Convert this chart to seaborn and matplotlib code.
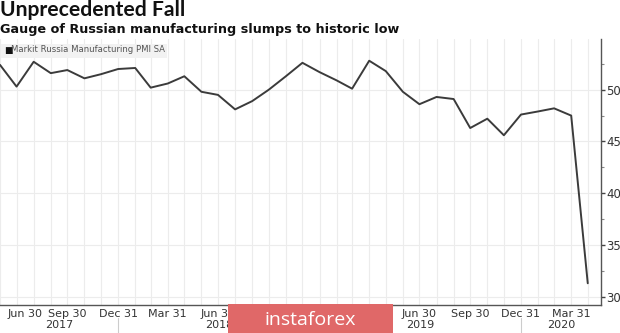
import matplotlib
matplotlib.use("Agg")
import matplotlib.pyplot as plt
import matplotlib.dates as mdates
from matplotlib.transforms import ScaledTranslation, blended_transform_factory
from matplotlib.patches import Rectangle
import seaborn as sns
import pandas as pd

# Markit Russia Manufacturing PMI SA, month-end readings May 2017 - Apr 2020
months = pd.date_range("2017-05-31", "2020-04-30", freq="ME")
pmi = [52.4, 50.3, 52.7, 51.6, 51.9, 51.1, 51.5, 52.0,
       52.1, 50.2, 50.6, 51.3, 49.8, 49.5, 48.1, 48.9, 50.0, 51.3, 52.6, 51.7,
       50.9, 50.1, 52.8, 51.8, 49.8, 48.6, 49.3, 49.1, 46.3, 47.2, 45.6, 47.6,
       47.9, 48.2, 47.5, 31.3]
quarter_ticks = ["2017-06-30", "2017-09-30", "2017-12-31", "2018-03-31",
                 "2018-06-30", "2018-09-30", "2018-12-31", "2019-03-31",
                 "2019-06-30", "2019-09-30", "2019-12-31", "2020-03-31"]
# quarters sitting under the publisher badge carry no label
quarter_labels = ["Jun 30", "Sep 30", "Dec 31", "Mar 31",
                  "Jun 30", "", "", "",
                  "Jun 30", "Sep 30", "Dec 31", "Mar 31"]
year_labels = ["2017", "2018", "2019", "2020"]
year_bounds = ["2017-05-31", "2017-12-31", "2018-12-31", "2019-12-31", "2020-05-24"]
y_ticks = [30, 35, 40, 45, 50]

df = pd.DataFrame({"date": months, "pmi": pmi})

sns.set_style("white")
plt.rcParams["font.family"] = ["DejaVu Sans"]

fig = plt.figure(figsize=(6.2, 3.33), dpi=100)
ax = fig.add_axes([0.0, 28 / 333, 601 / 620, 266 / 333])

sns.lineplot(data=df, x="date", y="pmi", ax=ax, color="#3b3b3b", linewidth=1.4)

ax.set_xlim(pd.Timestamp("2017-05-31"), pd.Timestamp("2020-05-24"))
ax.set_ylim(29.2, 54.9)

# monthly vertical grid, 5-point horizontal grid
ax.set_xticks(mdates.date2num(months), minor=True)
ax.set_xticks(mdates.date2num(pd.to_datetime(quarter_ticks)))
ax.set_xticklabels(quarter_labels, fontsize=8, color="#333333")
ax.grid(True, which="both", axis="x", color="#ececec", linewidth=0.8)
ax.grid(True, which="major", axis="y", color="#ececec", linewidth=0.8)
ax.tick_params(axis="x", which="both", length=0, pad=3)

ax.yaxis.tick_right()
ax.set_yticks(y_ticks)
ax.set_yticks([32.5, 37.5, 42.5, 47.5, 52.5], minor=True)
ax.tick_params(axis="y", which="major", length=3, width=1, color="#444444",
               labelsize=8.5, labelcolor="#333333", pad=1)
ax.tick_params(axis="y", which="minor", length=2, width=0.8, color="#888888")
ax.set_xlabel("")
ax.set_ylabel("")

for side in ["top", "left"]:
    ax.spines[side].set_visible(False)
for side in ["right", "bottom"]:
    ax.spines[side].set_color("#555555")
    ax.spines[side].set_linewidth(1.0)

# keep the first quarter label inside the figure
first = ax.get_xticklabels()[0]
first.set_transform(first.get_transform() + ScaledTranslation(8 / 100, 0, fig.dpi_scale_trans))

# year row under the quarter labels
trans = blended_transform_factory(ax.transData, ax.transAxes)
bounds = pd.to_datetime(year_bounds)
for i, yr in enumerate(year_labels):
    mid = bounds[i] + (bounds[i + 1] - bounds[i]) / 2
    ax.text(mid, -0.076, yr, transform=trans, ha="center", va="center",
            fontsize=8, color="#333333", clip_on=False)
for b in bounds[1:-1]:
    ax.plot([b, b], [-0.05, -0.11], transform=trans, color="#cccccc",
            linewidth=0.8, clip_on=False)

# legend tag in the top-left corner
ax.add_patch(Rectangle((1 / 601, 1 - 19 / 266), 166 / 601, 14 / 266,
                       transform=ax.transAxes, facecolor="#f2f2f2",
                       edgecolor="none", zorder=3))
fig.text(4 / 620, 1 - 50 / 333, "\u25a0", fontsize=6.5, color="#111111",
         va="center", ha="left", zorder=4)
fig.text(11 / 620, 1 - 50 / 333, "Markit Russia Manufacturing PMI SA",
         fontsize=6.1, color="#555555", va="center", ha="left", zorder=4)

# headline and deck
fig.text(0.0, 1 - 16.5 / 333, "Unprecedented Fall", fontsize=15.2,
         fontweight="bold", family="Lato", color="#111111", va="baseline")
fig.text(0.0, 1 - 32.5 / 333, "Gauge of Russian manufacturing slumps to historic low",
         fontsize=9.2, fontweight="bold", family="DejaVu Sans", color="#111111",
         va="baseline")

# publisher badge along the lower edge
fig.patches.append(Rectangle((228 / 620, 0), 165 / 620, 29 / 333,
                             transform=fig.transFigure, facecolor="#e06868",
                             edgecolor="none", zorder=5))
fig.text(310 / 620, 13 / 333, "instaforex", fontsize=14, color="white",
         family="Open Sans", ha="center", va="center", zorder=6)

fig.savefig("out.png", dpi=100)
